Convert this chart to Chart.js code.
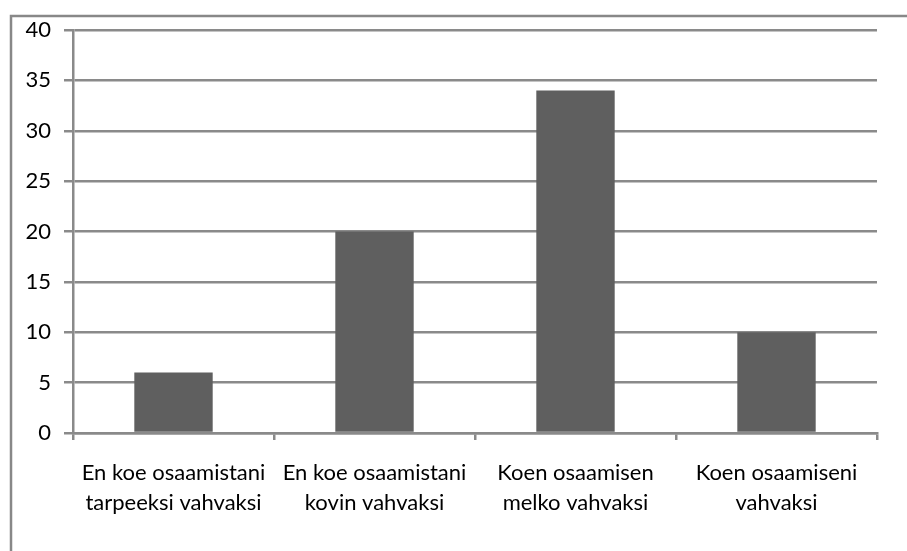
<!DOCTYPE html>
<html><head><meta charset="utf-8">
<script src="https://cdn.jsdelivr.net/npm/chart.js@4/dist/chart.umd.min.js"></script>
<style>html,body{margin:0;padding:0;background:#fff;}#wrap{width:907px;height:551px;position:relative;}</style>
</head><body><div id="wrap"><canvas id="c" width="907" height="551"></canvas></div>
<script>
const categories = [
  ["En koe osaamistani", "tarpeeksi vahvaksi"],
  ["En koe osaamistani", "kovin vahvaksi"],
  ["Koen osaamisen", "melko vahvaksi"],
  ["Koen osaamiseni", "vahvaksi"]
];
const values = [6, 20, 34, 10];
const yTicks = [0, 5, 10, 15, 20, 25, 30, 35, 40];

const frame = {
  id: 'frame',
  beforeDraw(chart) {
    const ctx = chart.ctx;
    ctx.save();
    ctx.fillStyle = '#fff';
    ctx.fillRect(0, 0, chart.width, chart.height);
    ctx.strokeStyle = '#888888';
    ctx.lineWidth = 2.5;
    ctx.strokeRect(11, 16, 1000, 1000);
    ctx.restore();
  }
};

new Chart(document.getElementById('c'), {
  type: 'bar',
  data: { labels: categories, datasets: [{ data: values, backgroundColor: '#5f5f5f', barPercentage: 0.39, categoryPercentage: 1 }] },
  options: {
    responsive: false, animation: false,
    layout: { padding: { top: 30, right: 30, left: 0, bottom: 0 } },
    plugins: { legend: { display: false }, tooltip: { enabled: false } },
    scales: {
      x: {
        offset: true,
        grid: { offset: true, drawOnChartArea: false, color: '#8a8a8a', lineWidth: 2.5, tickLength: 7 },
        border: { color: '#8a8a8a', width: 2.5 },
        ticks: { color: '#000', font: { family: 'Lato', size: 22, lineHeight: 1.36 }, padding: 18, maxRotation: 0, autoSkip: false },
        afterFit(s) { s.height = 118; }
      },
      y: {
        min: 0, max: 40,
        afterBuildTicks(s) { s.ticks = yTicks.map(v => ({ value: v })); },
        grid: { color: '#8a8a8a', lineWidth: 2.5, tickLength: 9 },
        border: { color: '#8a8a8a', width: 2.5 },
        ticks: { color: '#000', font: { family: 'Lato', size: 22 }, padding: 13 },
        afterFit(s) { s.width = 73; }
      }
    }
  },
  plugins: [frame]
});
</script></body></html>
